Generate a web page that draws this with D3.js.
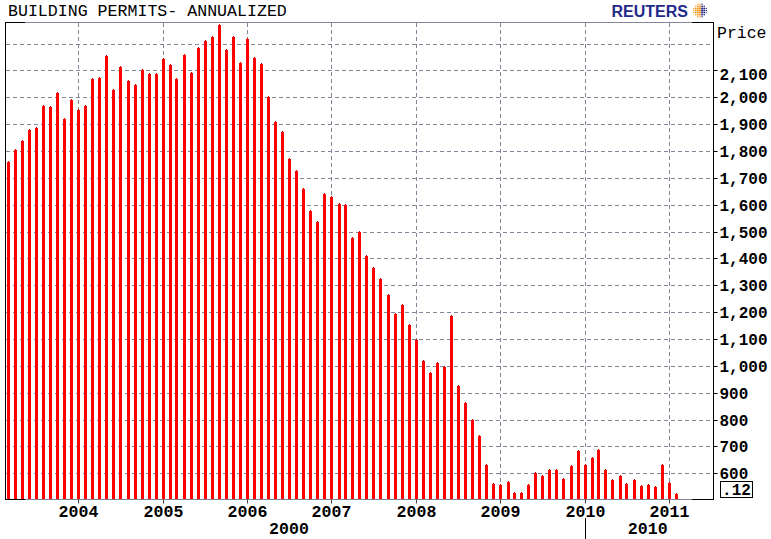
<!DOCTYPE html>
<html>
<head>
<meta charset="utf-8">
<script src="https://cdn.jsdelivr.net/npm/d3@7"></script>
<style>
  html, body { margin: 0; padding: 0; background: #fff; }
  svg { display: block; }
</style>
</head>
<body>
<svg id="chart" width="771" height="539"></svg>
<script>
// ---------- DATA ----------
const title = "BUILDING PERMITS- ANNUALIZED";
const startMonth = [2003, 2]; // March 2003 (month index 2)
const permits = [
  // 2003 Mar-Dec
  1760, 1805, 1838, 1879, 1887, 1969, 1965, 2017, 1920, 1991,
  // 2004
  1954, 1969, 2069, 2073, 2155, 2026, 2114, 2060, 2045, 2100, 2086, 2086,
  // 2005
  2144, 2119, 2067, 2156, 2089, 2182, 2209, 2223, 2268, 2175, 2223, 2127,
  // 2006
  2216, 2145, 2123, 2002, 1909, 1872, 1769, 1727, 1660, 1575, 1537, 1641,
  // 2007
  1630, 1602, 1600, 1475, 1497, 1410, 1366, 1325, 1264, 1194, 1228, 1153,
  // 2008
  1097, 1019, 972, 1012, 997, 1185, 926, 863, 800, 740, 630, 559,
  // 2009
  555, 569, 525, 528, 555, 602, 591, 613, 611, 580, 626, 684,
  // 2010
  632, 656, 688, 613, 576, 589, 561, 576, 552, 555, 548, 632,
  // 2011
  564, 522
];
const yTicks = [600, 700, 800, 900, 1000, 1100, 1200, 1300, 1400, 1500, 1600, 1700, 1800, 1900, 2000, 2100];
const yGrid = [600, 700, 800, 900, 1000, 1100, 1200, 1300, 1400, 1500, 1600, 1700, 1800, 1900, 2000, 2100, 2200];
const xYears = [2004, 2005, 2006, 2007, 2008, 2009, 2010, 2011];
const decadeLabels = [{ label: "2000", at: [2006, 6] }, { label: "2010", at: [2010, 9] }];
const decadeSplit = 2010;
const lastValueLabel = ".12";

// ---------- LAYOUT ----------
const svg = d3.select("#chart");
const L = 5, R = 713, T = 22, B = 499;
const grid = "#85859a";
const mono = "'Liberation Mono', 'DejaVu Sans Mono', monospace";

const x = d3.scaleTime()
  .domain([new Date(2004, 0, 1), new Date(2011, 0, 1)])
  .range([78.3, 669]);
const y = d3.scaleLinear().domain([600, 2000]).range([473.3, 97.3]);

const rows = permits.map((v, i) => ({ date: new Date(startMonth[0], startMonth[1] + i, 1), value: v }));

// horizontal dashed gridlines
svg.append("g").selectAll("line").data(yGrid).join("line")
  .attr("x1", L + 1).attr("x2", R)
  .attr("y1", d => Math.round(y(d)) + 0.5).attr("y2", d => Math.round(y(d)) + 0.5)
  .attr("stroke", grid).attr("stroke-width", 1).attr("stroke-dasharray", "4,3");

// vertical dashed gridlines
svg.append("g").selectAll("line").data(xYears).join("line")
  .attr("x1", d => Math.round(x(new Date(d, 0, 1))) + 0.5)
  .attr("x2", d => Math.round(x(new Date(d, 0, 1))) + 0.5)
  .attr("y1", T + 1).attr("y2", B)
  .attr("stroke", grid).attr("stroke-width", 1).attr("stroke-dasharray", "4,3");

// bars
const barG = svg.append("g");
barG.selectAll("rect.bar").data(rows).join("rect").attr("class", "bar")
  .attr("x", d => Math.round(x(d.date)) - 1)
  .attr("width", 3)
  .attr("y", d => Math.round(y(d.value)))
  .attr("height", d => B - Math.round(y(d.value)))
  .attr("fill", "#ff0000");
barG.selectAll("rect.cap").data(rows).join("rect").attr("class", "cap")
  .attr("x", d => Math.round(x(d.date)))
  .attr("width", 1)
  .attr("y", d => Math.round(y(d.value)) - 1)
  .attr("height", 1)
  .attr("fill", "#d00000");

// frame: top and bottom borders (gray middle, black ends)
[T, B].forEach(yy => {
  svg.append("line").attr("x1", L).attr("x2", 25).attr("y1", yy + 0.5).attr("y2", yy + 0.5)
    .attr("stroke", "#000");
  svg.append("line").attr("x1", 25).attr("x2", 692).attr("y1", yy + 0.5).attr("y2", yy + 0.5)
    .attr("stroke", grid);
  svg.append("line").attr("x1", 692).attr("x2", R + 1).attr("y1", yy + 0.5).attr("y2", yy + 0.5)
    .attr("stroke", "#000");
});
// left and right axis lines
svg.append("line").attr("x1", L + 0.5).attr("x2", L + 0.5).attr("y1", T).attr("y2", B + 1).attr("stroke", "#000");
svg.append("line").attr("x1", R + 0.5).attr("x2", R + 0.5).attr("y1", T).attr("y2", B + 1).attr("stroke", "#000");

// right axis ticks and labels
const yAxis = d3.axisRight(y).tickValues(yTicks).tickSize(4).tickFormat(d3.format(","));
const ya = svg.append("g").attr("transform", `translate(${R + 0.5},0)`).call(yAxis);
ya.select(".domain").remove();
ya.selectAll(".tick").attr("transform", d => `translate(0,${Math.round(y(d)) + 0.5})`);
ya.selectAll(".tick line").attr("stroke", "#000");
ya.selectAll(".tick text")
  .attr("x", 6)
  .attr("dy", d => d === 2100 ? "0.6em" : "0.32em")
  .attr("font-family", mono).attr("font-size", 16).attr("font-weight", "bold").attr("fill", "#000");

svg.append("text").attr("x", 717).attr("y", 38).text("Price")
  .attr("font-family", mono).attr("font-size", 16.5).attr("fill", "#000");

// last value box
svg.append("rect").attr("x", 720.5).attr("y", 481.5).attr("width", 32).attr("height", 16)
  .attr("fill", "#fff").attr("stroke", "#000");
svg.append("text").attr("x", 736.5).attr("y", 495).attr("text-anchor", "middle").text(lastValueLabel)
  .attr("font-family", mono).attr("font-size", 16).attr("font-weight", "bold").attr("fill", "#000");

// bottom axis: year ticks and labels
const xAxis = d3.axisBottom(x).tickValues(xYears.map(yv => new Date(yv, 0, 1))).tickSize(4).tickFormat(d3.timeFormat("%Y"));
const xa = svg.append("g").attr("transform", `translate(0,${B + 0.5})`).call(xAxis);
xa.select(".domain").remove();
xa.selectAll(".tick").attr("transform", d => `translate(${Math.round(x(d)) + 0.5},0)`);
xa.selectAll(".tick line").attr("stroke", "#444");
xa.selectAll(".tick text").attr("y", 6).attr("dy", "0.71em")
  .attr("font-family", mono).attr("font-size", 16.6).attr("font-weight", "bold").attr("fill", "#000");

// decade row
svg.append("g").selectAll("text").data(decadeLabels).join("text")
  .attr("x", d => x(new Date(d.at[0], d.at[1], 1)))
  .attr("y", 534).attr("text-anchor", "middle").text(d => d.label)
  .attr("font-family", mono).attr("font-size", 16.6).attr("font-weight", "bold").attr("fill", "#000");
svg.append("line")
  .attr("x1", Math.round(x(new Date(decadeSplit, 0, 1))) + 0.5)
  .attr("x2", Math.round(x(new Date(decadeSplit, 0, 1))) + 0.5)
  .attr("y1", 518).attr("y2", 539).attr("stroke", "#000");

// title
svg.append("text").attr("x", 8).attr("y", 16).text(title)
  .attr("font-family", mono).attr("font-size", 16.6).attr("fill", "#000");

// Reuters logo
svg.append("text").attr("x", 688).attr("y", 17).attr("text-anchor", "end").text("REUTERS")
  .attr("font-family", "'Liberation Sans', Arial, sans-serif").attr("font-weight", "bold")
  .attr("font-size", 16).attr("fill", "#1f2a8a");
const logo = svg.append("g").attr("transform", "translate(700,10.5)");
const dots = [];
for (let i = -3; i <= 3; i++) for (let j = -3; j <= 3; j++) {
  if (i * i + j * j <= 10) dots.push({ i, j });
}
logo.selectAll("circle").data(dots).join("circle")
  .attr("cx", d => d.i * 2.1).attr("cy", d => d.j * 2.1)
  .attr("r", d => 1.1 - (d.i * d.i + d.j * d.j) * 0.04)
  .attr("fill", d => d.i >= 1 ? "#1f2a8a" : "#f29a1f");
</script>
</body>
</html>
